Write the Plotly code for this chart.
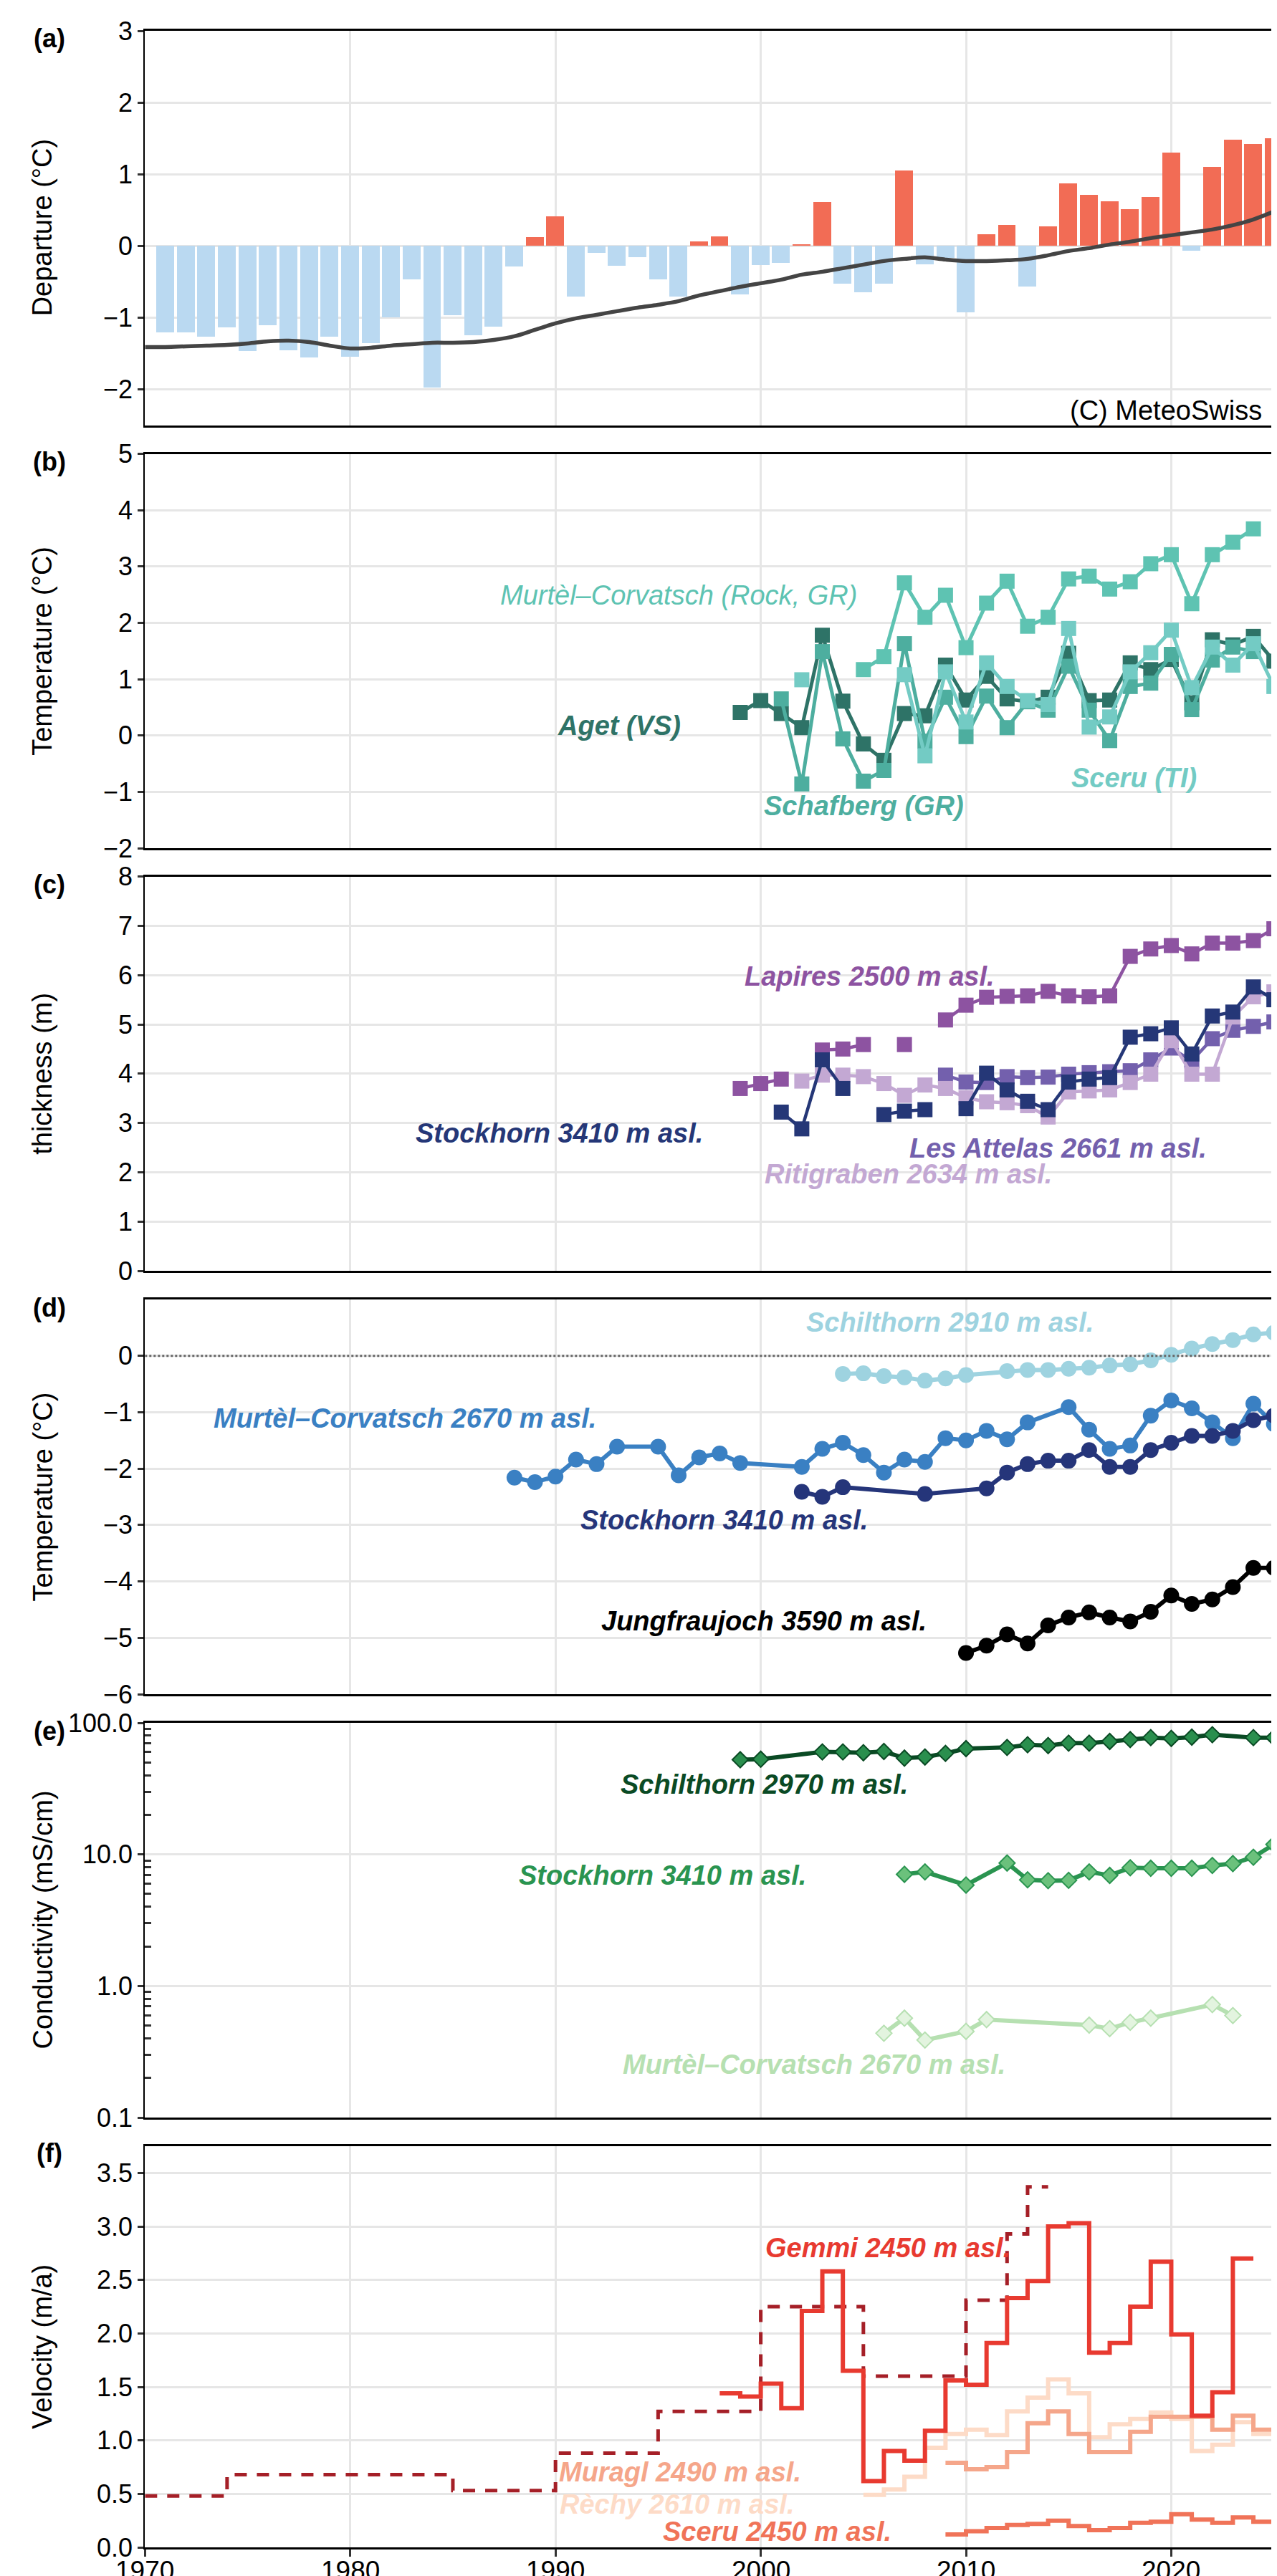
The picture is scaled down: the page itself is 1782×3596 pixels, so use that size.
import math
import plotly.graph_objects as go

W, H = 1782, 3596
FONT = "Liberation Sans, Arial, sans-serif"

# ---------------- x tick labels (bottom panel) ----------------
x_tick_years = [1970, 1980, 1990, 2000, 2010, 2020]

# ---------------- (a) temperature departure ----------------
dep_years = list(range(1971, 2026))
dep_values = [-1.21, -1.21, -1.27, -1.14, -1.47, -1.11, -1.46, -1.56, -1.27, -1.55,
              -1.36, -1.00, -0.47, -1.98, -0.97, -1.25, -1.13, -0.29, 0.12, 0.41,
              -0.71, -0.10, -0.28, -0.16, -0.47, -0.71, 0.06, 0.13, -0.68, -0.27,
              -0.24, 0.02, 0.61, -0.53, -0.65, -0.53, 1.05, -0.26, -0.17, -0.93,
              0.16, 0.29, -0.57, 0.27, 0.87, 0.71, 0.62, 0.51, 0.68, 1.30,
              -0.07, 1.10, 1.48, 1.42, 1.50]
smooth_years = list(range(1970, 2026))
smooth_values = [-1.41, -1.41, -1.40, -1.39, -1.38, -1.36, -1.33, -1.32, -1.34, -1.39,
                 -1.43, -1.42, -1.39, -1.37, -1.35, -1.35, -1.34, -1.31, -1.26, -1.17,
                 -1.08, -1.01, -0.96, -0.91, -0.86, -0.82, -0.77, -0.69, -0.63, -0.57,
                 -0.52, -0.47, -0.40, -0.36, -0.31, -0.26, -0.21, -0.18, -0.16, -0.19,
                 -0.21, -0.21, -0.20, -0.18, -0.13, -0.07, -0.03, 0.02, 0.06, 0.11,
                 0.15, 0.19, 0.23, 0.29, 0.37, 0.48]

# ---------------- (b) rock / ground surface temperature ----------------
b_years = list(range(1999, 2026))
aget = [0.41, 0.62, 0.39, 0.14, 1.78, 0.61, -0.15, -0.44, 0.39, 0.35, 1.25, 0.63, 1.05,
        0.65, 0.60, 0.68, 1.46, 0.62, 0.63, 1.29, 1.17, 1.35, 0.58, 1.70, 1.61, 1.76, 1.32]
schafberg = [None, None, 0.65, -0.86, 1.49, -0.06, -0.81, -0.62, 1.63, -0.10, 0.68, -0.02, 0.70,
             0.14, 0.60, 0.45, 1.23, 0.45, -0.09, 0.87, 0.93, 1.44, 0.46, 1.34, 1.57, 1.49, None]
sceru_b = [None, None, None, 0.99, None, None, None, None, 1.08, -0.36, 1.13, 0.24, 1.29,
           0.87, 0.62, 0.55, 1.90, 0.15, 0.33, 1.13, 1.47, 1.87, 0.85, 1.57, 1.25, 1.63, 0.87]
murtel_rock = [None, None, None, None, None, None, 1.17, 1.40, 2.71, 2.10, 2.49, 1.56, 2.35,
               2.74, 1.94, 2.10, 2.78, 2.83, 2.60, 2.73, 3.05, 3.21, 2.34, 3.21, 3.43, 3.67, None]

# ---------------- (c) active layer thickness ----------------
c_years = list(range(1999, 2026))
lapires = [3.70, 3.80, 3.89, None, 4.48, 4.50, 4.59, None, 4.59, None, 5.09, 5.39, 5.55,
           5.57, 5.58, 5.67, 5.58, 5.56, 5.58, 6.38, 6.53, 6.60, 6.43, 6.65, 6.65, 6.70, 6.94]
stockhorn_c = [None, None, 3.22, 2.88, 4.28, 3.70, None, 3.17, 3.24, 3.27, None, 3.29, 4.01,
               3.67, 3.44, 3.27, 3.83, 3.89, 3.92, 4.74, 4.81, 4.93, 4.40, 5.17, 5.25, 5.76, 5.50]
attelas = [None, None, None, None, None, None, None, None, None, None, 3.97, 3.83, 3.82,
           3.94, 3.92, 3.93, 3.99, 4.02, 4.04, 4.06, 4.28, 4.52, 4.26, 4.71, 4.88, 4.96, 5.05]
ritigraben = [None, None, None, 3.85, 3.97, 3.97, 3.94, 3.80, 3.56, 3.77, 3.70, 3.51, 3.43,
              3.41, 3.35, 3.12, 3.63, 3.65, 3.67, 3.82, 3.99, 4.67, 3.99, 3.99, 5.15, 5.56, 5.66]

# ---------------- (d) permafrost temperature ----------------
murtel_d_years = [1988, 1989, 1990, 1991, 1992, 1993, 1995, 1996, 1997, 1998, 1999, 2002, 2003,
                  2004, 2005, 2006, 2007, 2008, 2009, 2010, 2011, 2012, 2013, 2015, 2016, 2017,
                  2018, 2019, 2020, 2021, 2022, 2023, 2024, 2025]
murtel_d = [-2.16, -2.24, -2.14, -1.84, -1.92, -1.61, -1.61, -2.12, -1.80, -1.73, -1.90, -1.97,
            -1.65, -1.54, -1.76, -2.07, -1.84, -1.88, -1.46, -1.50, -1.33, -1.48, -1.18, -0.91,
            -1.31, -1.65, -1.59, -1.06, -0.79, -0.93, -1.18, -1.46, -0.85, -1.21]
stockhorn_d_years = [2002, 2003, 2004, 2008, 2011, 2012, 2013, 2014, 2015, 2016, 2017, 2018,
                     2019, 2020, 2021, 2022, 2023, 2024, 2025]
stockhorn_d = [-2.41, -2.50, -2.33, -2.45, -2.35, -2.07, -1.92, -1.86, -1.86, -1.67, -1.97,
               -1.97, -1.67, -1.54, -1.42, -1.42, -1.33, -1.14, -1.06]
schilthorn_d_years = [2004, 2005, 2006, 2007, 2008, 2009, 2010, 2012, 2013, 2014, 2015, 2016,
                      2017, 2018, 2019, 2020, 2021, 2022, 2023, 2024, 2025]
schilthorn_d = [-0.32, -0.31, -0.36, -0.38, -0.44, -0.40, -0.34, -0.27, -0.25, -0.25, -0.23,
                -0.21, -0.17, -0.15, -0.08, 0.02, 0.13, 0.21, 0.28, 0.38, 0.41]
jungfrau_years = list(range(2010, 2026))
jungfrau = [-5.27, -5.14, -4.94, -5.10, -4.78, -4.64, -4.55, -4.64, -4.71, -4.54, -4.25,
            -4.40, -4.32, -4.10, -3.76, -3.76]

# ---------------- (e) electrical conductivity ----------------
schilthorn_e_years = [1999, 2000, 2003, 2004, 2005, 2006, 2007, 2008, 2009, 2010, 2012, 2013,
                      2014, 2015, 2016, 2017, 2018, 2019, 2020, 2021, 2022, 2024, 2025]
schilthorn_e = [52.4, 52.9, 60.1, 60.1, 59.3, 60.6, 53.9, 55.0, 58.6, 63.7, 65.0, 68.1, 67.2,
                70.1, 70.1, 72.2, 74.6, 77.2, 76.2, 77.8, 81.2, 77.2, 77.2]
stockhorn_e_years = [2007, 2008, 2010, 2012, 2013, 2014, 2015, 2016, 2017, 2018, 2019, 2020,
                     2021, 2022, 2023, 2024, 2025]
stockhorn_e = [7.06, 7.36, 5.85, 8.60, 6.41, 6.31, 6.35, 7.36, 6.92, 7.91, 7.84, 7.84, 7.84,
               8.24, 8.51, 9.52, 11.9]
murtel_e_years = [2006, 2007, 2008, 2010, 2011, 2016, 2017, 2018, 2019, 2022, 2023]
murtel_e = [0.437, 0.569, 0.388, 0.452, 0.555, 0.504, 0.474, 0.529, 0.569, 0.722, 0.596]

# ---------------- (f) rock glacier velocity (value for each period start) ----------------
gemmi_photo_start = [1970, 1974, 1985, 1990, 1995, 2000, 2005, 2010, 2012, 2013]
gemmi_photo_end = 2014
gemmi_photo = [0.48, 0.68, 0.53, 0.88, 1.27, 2.25, 1.60, 2.31, 2.93, 3.37]
gemmi_years = list(range(1998, 2024))
gemmi = [1.44, 1.41, 1.53, 1.30, 2.21, 2.58, 1.65, 0.62, 0.90, 0.81, 1.09, 1.56, 1.52, 1.91,
         2.33, 2.49, 3.00, 3.03, 1.82, 1.91, 2.25, 2.67, 1.99, 1.23, 1.45, 2.70]
muragl_years = list(range(2009, 2025))
muragl = [0.79, 0.73, 0.75, 0.89, 1.16, 1.27, 1.06, 0.89, 0.89, 1.08, 1.22, 1.22, 1.22, 1.10,
          1.23, 1.10]
rechy_years = list(range(2005, 2025))
rechy = [0.49, 0.54, 0.66, 0.93, 1.06, 1.10, 1.05, 1.27, 1.40, 1.57, 1.44, 1.03, 1.15, 1.20,
         1.26, 1.20, 0.90, 0.96, 1.17, 1.06]
sceru_f_years = list(range(2009, 2025))
sceru_f = [0.12, 0.15, 0.18, 0.21, 0.22, 0.25, 0.20, 0.16, 0.18, 0.23, 0.24, 0.31, 0.26, 0.23,
           0.28, 0.24]

# ---------------- layout helpers ----------------
X_RANGE = [1970, 2025.43]
X0 = 194.3 / W
panels_px = [(35.2, 585.5), (625.6, 1176.0), (1215.6, 1766.0),
             (1806.0, 2357.0), (2397.0, 2948.0), (2988.0, 3548.0)]
GRID = "#e6e6e6"

fig = go.Figure()


def ax(i):
    return ("x" if i == 1 else f"x{i}"), ("y" if i == 1 else f"y{i}")


# (a)
xa, ya = ax(1)
fig.add_trace(go.Bar(x=dep_years, y=dep_values, width=0.87,
                     marker=dict(color=["#f26c55" if v > 0 else "#bad9f1" for v in dep_values],
                                 line=dict(width=0)),
                     xaxis=xa, yaxis=ya, showlegend=False))
fig.add_trace(go.Scatter(x=smooth_years, y=smooth_values, mode="lines", line_shape="spline",
                         line=dict(color="#444444", width=5.5), xaxis=xa, yaxis=ya,
                         showlegend=False))

# (b)
xb, yb = ax(2)
for vals, col in [(aget, "#2e7367"), (schafberg, "#4dae9f"), (sceru_b, "#73cbc4"),
                  (murtel_rock, "#5ec3b2")]:
    fig.add_trace(go.Scatter(x=b_years, y=vals, mode="lines+markers",
                             line=dict(color=col, width=5),
                             marker=dict(symbol="square", size=21, color=col),
                             xaxis=xb, yaxis=yb, showlegend=False, connectgaps=False))

# (c)
xc, yc = ax(3)
for vals, col in [(lapires, "#8d53a1"), (attelas, "#7360ad"), (ritigraben, "#c3a8d3"),
                  (stockhorn_c, "#253777")]:
    fig.add_trace(go.Scatter(x=c_years, y=vals, mode="lines+markers",
                             line=dict(color=col, width=4.5),
                             marker=dict(symbol="square", size=21, color=col),
                             xaxis=xc, yaxis=yc, showlegend=False, connectgaps=False))

# (d)
xd, yd = ax(4)
for xs, vals, col in [(murtel_d_years, murtel_d, "#3a80c3"),
                      (stockhorn_d_years, stockhorn_d, "#25357a"),
                      (schilthorn_d_years, schilthorn_d, "#9ed3e0"),
                      (jungfrau_years, jungfrau, "#000000")]:
    fig.add_trace(go.Scatter(x=xs, y=vals, mode="lines+markers",
                             line=dict(color=col, width=6),
                             marker=dict(symbol="circle", size=22, color=col),
                             xaxis=xd, yaxis=yd, showlegend=False))

# (e)
xe, ye = ax(5)
for xs, vals, lc, fc in [(schilthorn_e_years, schilthorn_e, "#0a4a24", "#2a8f4e"),
                         (stockhorn_e_years, stockhorn_e, "#2a9450", "#6bc17c"),
                         (murtel_e_years, murtel_e, "#b6e0b1", "#e3f4df")]:
    fig.add_trace(go.Scatter(x=xs, y=vals, mode="lines+markers",
                             line=dict(color=lc, width=6),
                             marker=dict(symbol="diamond", size=17, color=fc,
                                         line=dict(color=lc, width=2)),
                             xaxis=xe, yaxis=ye, showlegend=False))

# (f)
xf, yf = ax(6)
fig.add_trace(go.Scatter(x=gemmi_photo_start + [gemmi_photo_end],
                         y=gemmi_photo + [gemmi_photo[-1]], mode="lines", line_shape="hv",
                         line=dict(color="#a51f27", width=5, dash="17px,14px"),
                         xaxis=xf, yaxis=yf, showlegend=False))
for xs, vals, col in [(sceru_f_years, sceru_f, "#f07358"),
                      (rechy_years, rechy, "#fddbc7"),
                      (muragl_years, muragl, "#f5a68a"),
                      (gemmi_years, gemmi, "#e83a30")]:
    fig.add_trace(go.Scatter(x=xs + [xs[-1] + 1], y=vals + [vals[-1]], mode="lines",
                             line_shape="hv", line=dict(color=col, width=6),
                             xaxis=xf, yaxis=yf, showlegend=False))

# ---------------- axes ----------------
yranges = [[-2.5, 3], [-2, 5], [0, 8], [-6, 1], [-1, 2], [0, 3.75]]
ytickvals = [[-2, -1, 0, 1, 2, 3], list(range(-2, 6)), list(range(0, 9)),
             list(range(-6, 1)), [0.1, 1, 10, 100], [0, 0.5, 1, 1.5, 2, 2.5, 3, 3.5]]
yticktext = [None, None, None, None, ["0.1", "1.0", "10.0", "100.0"],
             ["0.0", "0.5", "1.0", "1.5", "2.0", "2.5", "3.0", "3.5"]]

layout = dict(width=W, height=H, margin=dict(l=0, r=0, t=0, b=0, autoexpand=False),
              paper_bgcolor="white", plot_bgcolor="white",
              font=dict(family=FONT, color="black"), bargap=0)
for i in range(1, 7):
    top, bot = panels_px[i - 1]
    dom = [1 - bot / H, 1 - top / H]
    xk = "xaxis" if i == 1 else f"xaxis{i}"
    yk = "yaxis" if i == 1 else f"yaxis{i}"
    xd_ = dict(domain=[X0, 1], range=X_RANGE, anchor=("y" if i == 1 else f"y{i}"),
               tickvals=x_tick_years, showgrid=True, gridcolor=GRID, gridwidth=2.5,
               zeroline=False, showline=True, mirror=True, linecolor="black", linewidth=3,
               showticklabels=False, ticks=("outside" if i == 6 else ""),
               ticklen=10, tickwidth=3, tickcolor="#333", automargin=False)
    if i > 1:
        xd_["matches"] = "x"
    yd_ = dict(domain=dom, anchor=("x" if i == 1 else f"x{i}"), showgrid=True,
               gridcolor=GRID, gridwidth=3, zeroline=False, showline=True,
               linecolor="black", linewidth=2, ticks="outside", ticklen=8, tickwidth=2.5,
               tickcolor="#333", tickfont=dict(size=36, family=FONT, color="black"),
               tickvals=ytickvals[i - 1], automargin=False)
    if i == 5:
        yd_["type"] = "log"
        yd_["range"] = [math.log10(v) for v in (0.1, 100)]
        yd_["ticktext"] = yticktext[i - 1]
        yd_["minor"] = dict(ticks="inside", ticklen=9, tickwidth=2.5, tickcolor="#333",
                            showgrid=False,
                            tickvals=[m * 10 ** e for e in (-1, 0, 1) for m in range(2, 10)])
    else:
        yd_["range"] = yranges[i - 1]
        if yticktext[i - 1]:
            yd_["ticktext"] = yticktext[i - 1]
    layout[xk] = xd_
    layout[yk] = yd_
fig.update_layout(**layout)

# dotted zero line in (d)
fig.add_shape(type="line", xref="x4", yref="y4", x0=X_RANGE[0], x1=X_RANGE[1], y0=0, y1=0,
              line=dict(color="#666666", width=3, dash="dot"))

# ---------------- annotations ----------------
ann = []
# bottom x tick labels (placed on the data x scale of the bottom panel)
for yr in x_tick_years:
    ann.append(dict(text=str(yr), xref="x6", yref="paper", x=yr, y=0, yshift=-7,
                    showarrow=False, xanchor="center", yanchor="bottom",
                    font=dict(size=37, color="black")))

ytitles = ["Departure (°C)", "Temperature (°C)", "thickness (m)", "Temperature (°C)",
           "Conductivity (mS/cm)", "Velocity (m/a)"]
letters = ["(a)", "(b)", "(c)", "(d)", "(e)", "(f)"]
letter_y_px = [46, 636, 1226, 1817, 2408, 2997]
for i in range(6):
    top, bot = panels_px[i]
    ann.append(dict(text=ytitles[i], xref="paper", yref="paper", x=51 / W,
                    y=1 - (top + bot) / 2 / H, textangle=-90, showarrow=False,
                    xanchor="center", yanchor="middle", font=dict(size=38, color="black")))
    ann.append(dict(text="<b>" + letters[i] + "</b>", xref="paper", yref="paper",
                    x=61 / W, y=1 - letter_y_px[i] / H, showarrow=False,
                    xanchor="center", yanchor="middle", font=dict(size=36, color="black")))


def lab(text, x, y, col, i, bold=True, size=38):
    xk, yk = ax(i)
    t = f"<i>{text}</i>"
    if bold:
        t = f"<b>{t}</b>"
    ann.append(dict(text=t, xref=xk, yref=yk, x=x, y=y, showarrow=False,
                    xanchor="center", yanchor="middle", font=dict(size=size, color=col)))


ann.append(dict(text="(C) MeteoSwiss", xref="x", yref="y", x=2019.74, y=-2.30,
                showarrow=False, xanchor="center", yanchor="middle",
                font=dict(size=38, color="black")))
lab("Murtèl–Corvatsch (Rock, GR)", 1996.0, 2.49, "#5ec3b2", 2, bold=False)
lab("Aget (VS)", 1993.1, 0.17, "#2e7367", 2)
lab("Schafberg (GR)", 2005.04, -1.25, "#4dae9f", 2)
lab("Sceru (TI)", 2018.17, -0.75, "#73cbc4", 2)

lab("Lapires 2500 m asl.", 2005.29, 5.97, "#8d53a1", 3)
lab("Stockhorn 3410 m asl.", 1990.2, 2.79, "#253777", 3)
lab("Les Attelas 2661 m asl.", 2014.5, 2.49, "#7360ad", 3)
lab("Ritigraben 2634 m asl.", 2007.2, 1.96, "#c3a8d3", 3)

lab("Schilthorn 2910 m asl.", 2009.2, 0.59, "#9ed3e0", 4)
lab("Murtèl–Corvatsch 2670 m asl.", 1982.66, -1.11, "#3a80c3", 4)
lab("Stockhorn 3410 m asl.", 1998.2, -2.91, "#25357a", 4)
lab("Jungfraujoch 3590 m asl.", 2000.15, -4.71, "#000000", 4)

lab("Schilthorn 2970 m asl.", 2000.18, 1.532, "#0a4a24", 5)
lab("Stockhorn 3410 m asl.", 1995.2, 0.842, "#2a9450", 5)
lab("Murtèl–Corvatsch 2670 m asl.", 2002.6, -0.599, "#b6e0b1", 5)

lab("Gemmi 2450 m asl.", 2006.2, 2.80, "#e83a30", 6)
lab("Muragl 2490 m asl.", 1996.07, 0.70, "#f5a68a", 6)
lab("Rèchy 2610 m asl.", 1995.9, 0.40, "#fddbc7", 6)
lab("Sceru 2450 m asl.", 2000.8, 0.145, "#f07358", 6)

fig.update_layout(annotations=ann)
fig.write_html("out.html")
